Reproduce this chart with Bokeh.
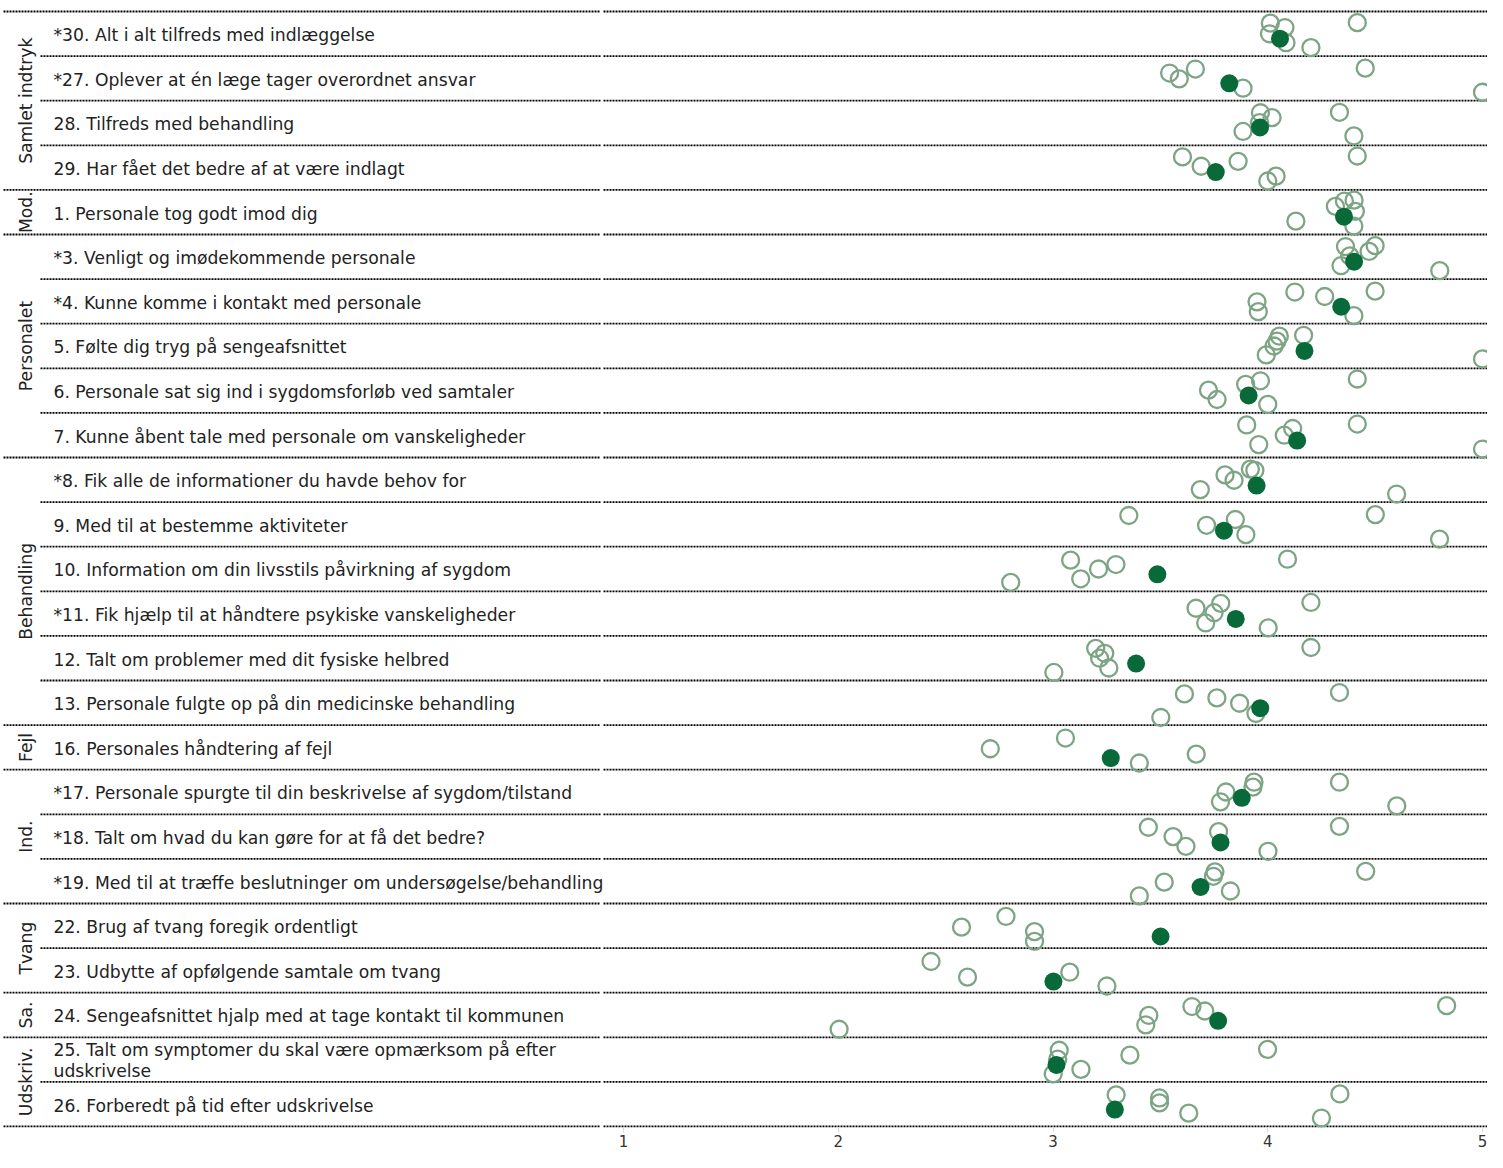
import math
from bokeh.plotting import figure
from bokeh.models import Range1d, FixedTicker
from bokeh.core.properties import value
from bokeh.embed import file_html
from bokeh.resources import INLINE

# ---------------- data ----------------
labels = [
    "*30. Alt i alt tilfreds med indlæggelse",
    "*27. Oplever at én læge tager overordnet ansvar",
    "28. Tilfreds med behandling",
    "29. Har fået det bedre af at være indlagt",
    "1. Personale tog godt imod dig",
    "*3. Venligt og imødekommende personale",
    "*4. Kunne komme i kontakt med personale",
    "5. Følte dig tryg på sengeafsnittet",
    "6. Personale sat sig ind i sygdomsforløb ved samtaler",
    "7. Kunne åbent tale med personale om vanskeligheder",
    "*8. Fik alle de informationer du havde behov for",
    "9. Med til at bestemme aktiviteter",
    "10. Information om din livsstils påvirkning af sygdom",
    "*11. Fik hjælp til at håndtere psykiske vanskeligheder",
    "12. Talt om problemer med dit fysiske helbred",
    "13. Personale fulgte op på din medicinske behandling",
    "16. Personales håndtering af fejl",
    "*17. Personale spurgte til din beskrivelse af sygdom/tilstand",
    "*18. Talt om hvad du kan gøre for at få det bedre?",
    "*19. Med til at træffe beslutninger om undersøgelse/behandling",
    "22. Brug af tvang foregik ordentligt",
    "23. Udbytte af opfølgende samtale om tvang",
    "24. Sengeafsnittet hjalp med at tage kontakt til kommunen",
    "25. Talt om symptomer du skal være opmærksom på efter\nudskrivelse",
    "26. Forberedt på tid efter udskrivelse",
]

group_names = ["Samlet indtryk", "Mod.", "Personalet", "Behandling", "Fejl",
               "Ind.", "Tvang", "Sa.", "Udskriv."]
group_sizes = [4, 1, 5, 6, 1, 3, 2, 1, 2]

means = [4.057, 3.821, 3.964, 3.758, 4.355, 4.402, 4.342, 4.171, 3.911, 4.137,
         3.948, 3.796, 3.486, 3.851, 3.387, 3.965, 3.269, 3.879, 3.780, 3.687,
         3.501, 3.002, 3.769, 3.016, 3.288]
mean_jitter = [0.61, 0.61, 0.60, 0.60, 0.60, 0.61, 0.62, 0.61, 0.61, 0.62,
               0.63, 0.64, 0.62, 0.62, 0.62, 0.62, 0.74, 0.63, 0.63, 0.63,
               0.74, 0.75, 0.63, 0.62, 0.62]

others = [
    [4.012, 4.080, 4.008, 4.085, 4.201, 4.417],
    [3.543, 3.588, 3.663, 3.885, 4.454, 5.0],
    [3.966, 4.020, 3.962, 3.885, 4.334, 4.401],
    [3.603, 3.690, 3.862, 4.000, 4.039, 4.417],
    [4.315, 4.357, 4.402, 4.408, 4.401, 4.131],
    [4.362, 4.382, 4.341, 4.472, 4.500, 4.801],
    [4.126, 4.265, 4.500, 4.401, 3.950, 3.956],
    [4.054, 4.043, 4.029, 3.993, 4.167, 5.0],
    [3.897, 3.966, 3.724, 3.764, 4.000, 4.417],
    [3.902, 4.077, 4.116, 3.958, 4.417, 5.0],
    [3.686, 3.801, 3.843, 3.919, 3.940, 4.600],
    [3.353, 3.715, 3.849, 3.898, 4.501, 4.800],
    [2.803, 3.082, 3.129, 3.212, 3.293, 4.092],
    [3.666, 3.781, 3.750, 3.711, 4.201, 4.002],
    [3.199, 3.241, 3.217, 3.260, 3.004, 4.201],
    [3.612, 3.763, 3.869, 3.945, 3.502, 4.334],
    [2.708, 3.058, 3.402, 3.667],
    [3.805, 3.780, 3.936, 3.931, 4.334, 4.601],
    [3.444, 3.559, 3.619, 3.771, 4.001, 4.334],
    [3.754, 3.747, 3.518, 3.402, 3.826, 4.456],
    [2.574, 2.781, 2.914, 2.914],
    [2.432, 2.602, 3.078, 3.251],
    [2.004, 3.446, 3.432, 3.647, 3.707, 4.833],
    [3.029, 3.022, 3.001, 3.130, 3.358, 3.999],
    [3.294, 3.496, 3.496, 3.632, 4.250, 4.336],
]
others_jitter = [
    [0.26, 0.36, 0.50, 0.70, 0.81, 0.25],
    [0.38, 0.51, 0.29, 0.72, 0.27, 0.81],
    [0.27, 0.38, 0.49, 0.69, 0.26, 0.79],
    [0.26, 0.47, 0.36, 0.80, 0.69, 0.24],
    [0.37, 0.25, 0.23, 0.48, 0.81, 0.70],
    [0.27, 0.48, 0.70, 0.38, 0.25, 0.81],
    [0.29, 0.39, 0.27, 0.82, 0.51, 0.73],
    [0.28, 0.39, 0.50, 0.70, 0.26, 0.79],
    [0.36, 0.28, 0.49, 0.70, 0.81, 0.24],
    [0.27, 0.50, 0.35, 0.71, 0.25, 0.81],
    [0.72, 0.39, 0.51, 0.26, 0.29, 0.82],
    [0.30, 0.52, 0.39, 0.73, 0.28, 0.83],
    [0.80, 0.30, 0.72, 0.50, 0.40, 0.28],
    [0.38, 0.27, 0.48, 0.71, 0.25, 0.82],
    [0.28, 0.39, 0.50, 0.72, 0.82, 0.26],
    [0.30, 0.39, 0.51, 0.74, 0.83, 0.27],
    [0.53, 0.29, 0.85, 0.65],
    [0.50, 0.72, 0.28, 0.39, 0.28, 0.81],
    [0.29, 0.50, 0.72, 0.39, 0.83, 0.27],
    [0.29, 0.39, 0.52, 0.83, 0.72, 0.28],
    [0.53, 0.29, 0.63, 0.85],
    [0.30, 0.65, 0.54, 0.85],
    [0.82, 0.51, 0.72, 0.31, 0.41, 0.29],
    [0.29, 0.49, 0.82, 0.72, 0.40, 0.27],
    [0.29, 0.36, 0.47, 0.70, 0.81, 0.27],
]
x_ticks = [1, 2, 3, 4, 5]

# ---------------- layout ----------------
W, H = 1487, 1152
BOTTOM = 25
FW, FH = W, H - BOTTOM
n_rows = len(labels)

X1_PX, X5_PX = 623, 1482
UNIT = (X5_PX - X1_PX) / 4.0
x_start = 1 - X1_PX / UNIT
x_end = x_start + FW / UNIT


def px2x(px):
    return x_start + px / UNIT


TOP_PX, BOT_PX = 11, FH - 1
ROW_H = (BOT_PX - TOP_PX) / n_rows
y_top = -TOP_PX / ROW_H
y_bot = n_rows + (FH - BOT_PX) / ROW_H

p = figure(width=W, height=H, output_backend="svg", toolbar_location=None,
           x_range=Range1d(x_start, x_end), y_range=Range1d(y_bot, y_top),
           y_axis_location=None, min_border_left=0, min_border_right=0,
           min_border_top=0, min_border_bottom=BOTTOM)
p.outline_line_color = None
p.xgrid.visible = False
p.ygrid.visible = False
p.background_fill_color = "white"

ax = p.xaxis[0]
ax.ticker = FixedTicker(ticks=x_ticks)
ax.axis_line_color = None
ax.minor_tick_line_color = None
ax.major_tick_line_color = "#dcdcdc"
ax.major_tick_in = 0
ax.major_tick_out = 5
ax.major_label_standoff = 2
ax.major_label_text_font = "DejaVu Sans"
ax.major_label_text_font_size = "15px"
ax.major_label_text_color = "#333333"

# separator lines
boundaries = set()
acc = 0
for s in group_sizes:
    boundaries.add(acc)
    acc += s
boundaries.add(acc)
gap0, gap1 = px2x(600), px2x(603)
sx0, sx1, sy = [], [], []
for j in range(n_rows + 1):
    start = px2x(3) if j in boundaries else px2x(40)
    sx0 += [start, gap1]
    sx1 += [gap0, x_end]
    sy += [j, j]
p.segment(x0=sx0, x1=sx1, y0=sy, y1=sy, line_color="#000000",
          line_width=1.8, line_dash="2 1")

# item labels
lx, ly, lt = [], [], []
for k, lab in enumerate(labels):
    parts = lab.split("\n")
    if len(parts) == 1:
        lx.append(px2x(53)); ly.append(k + 0.53); lt.append(lab)
    else:
        lx += [px2x(53), px2x(53)]
        ly += [k + 0.29, k + 0.76]
        lt += parts
p.text(x=lx, y=ly, text=lt, text_font=value("DejaVu Sans"),
       text_font_size="17.2px", text_color="#222222", text_baseline="middle",
       text_align="left")

# group labels
gx, gy, gt = [], [], []
acc = 0
for name, s in zip(group_names, group_sizes):
    gx.append(px2x(25)); gy.append(acc + s / 2); gt.append(name)
    acc += s
p.text(x=gx, y=gy, text=gt, angle=math.pi / 2, text_font=value("DejaVu Sans"),
       text_font_size="17.2px", text_color="#222222", text_baseline="middle",
       text_align="center")

# hollow circles
ox, oy = [], []
for k, (vals, jit) in enumerate(zip(others, others_jitter)):
    for v, j in zip(vals, jit):
        ox.append(v); oy.append(k + j)
p.scatter(x=ox, y=oy, marker="circle", size=17, fill_color=None,
          line_color="#7da585", line_width=2.3)

# filled means
p.scatter(x=means, y=[k + j for k, j in enumerate(mean_jitter)], marker="circle",
          size=18, fill_color="#086a38", line_color=None)

open("out.html", "w").write(file_html(p, INLINE))
